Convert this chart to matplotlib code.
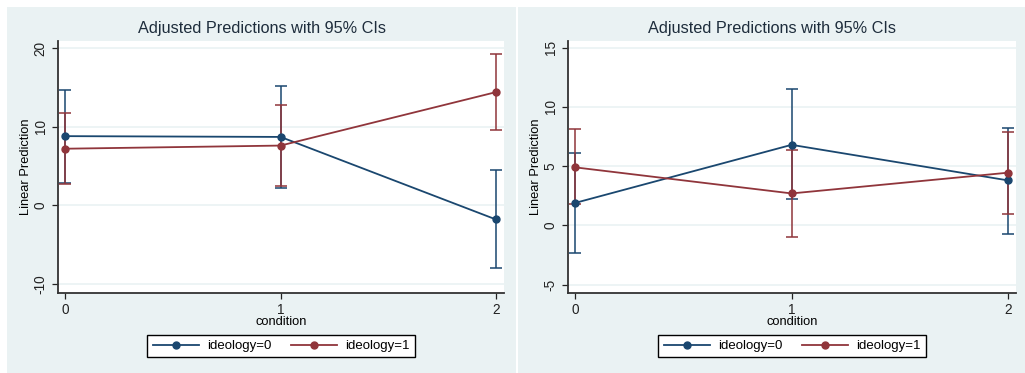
import matplotlib
matplotlib.use("Agg")
import matplotlib.pyplot as plt
from matplotlib.patches import Rectangle

plt.rcParams['font.family'] = ['Liberation Sans', 'DejaVu Sans']

W, H = 1025, 373
navy = '#1a476f'
maroon = '#90353b'
bg = '#eaf2f3'

condition = [0, 1, 2]
title = 'Adjusted Predictions with 95% CIs'
series_labels = ['ideology=0', 'ideology=1']

# left panel
left_id0 = [8.8, 8.7, -1.8]
left_id0_lo = [2.8, 2.2, -8.0]
left_id0_hi = [14.7, 15.2, 4.5]
left_id1 = [7.2, 7.6, 14.4]
left_id1_lo = [2.7, 2.5, 9.6]
left_id1_hi = [11.7, 12.7, 19.3]
left_yticks = [-10, 0, 10, 20]

# right panel
right_id0 = [1.9, 6.8, 3.8]
right_id0_lo = [-2.3, 2.2, -0.7]
right_id0_hi = [6.1, 11.5, 8.2]
right_id1 = [4.9, 2.7, 4.45]
right_id1_lo = [1.8, -1.0, 1.0]
right_id1_hi = [8.1, 6.4, 7.9]
right_yticks = [-5, 0, 5, 10, 15]


def frect(x0, y0, x1, y1):
    # pixel box (top-left origin) -> figure fraction
    return [x0 / W, (H - y1) / H, (x1 - x0) / W, (y1 - y0) / H]


fig = plt.figure(figsize=(W / 100, H / 100), dpi=100)
fig.patch.set_facecolor('white')
for x0, x1 in [(7, 516), (518, 1025)]:
    r = frect(x0, 7, x1, 373)
    fig.add_artist(Rectangle((r[0], r[1]), r[2], r[3], transform=fig.transFigure,
                             facecolor=bg, edgecolor='none', zorder=0))


def panel(box, cx, ylim, yticks, s0, lo0, hi0, s1, lo1, hi1):
    ax = fig.add_axes(frect(*box))
    ax.set_facecolor('white')
    for vals, lo, hi, c in [(s0, lo0, hi0, navy), (s1, lo1, hi1, maroon)]:
        err = [[v - l for v, l in zip(vals, lo)], [h - v for v, h in zip(vals, hi)]]
        ax.errorbar(condition, vals, yerr=err, fmt='none', ecolor=c,
                    elinewidth=1.1, capsize=4, capthick=1.1, zorder=3)
    for vals, c, lab in [(s0, navy, series_labels[0]), (s1, maroon, series_labels[1])]:
        ax.plot(condition, vals, color=c, lw=1.3, marker='o', ms=5, label=lab, zorder=4)
    ax.set_xlim(-0.033, 2.037)
    ax.set_ylim(*ylim)
    ax.set_xticks(condition)
    ax.set_yticks(yticks)
    ax.set_yticklabels([str(t) for t in yticks], rotation=90, va='center')
    ax.tick_params(labelsize=9.8, colors='#222222', length=4.5, width=0.9, pad=3)
    ax.grid(axis='y', color=bg, lw=1.2)
    ax.set_axisbelow(True)
    for s in ['top', 'right']:
        ax.spines[s].set_visible(False)
    for s in ['left', 'bottom']:
        ax.spines[s].set_color('#333333')
        ax.spines[s].set_linewidth(1.3)
    ax.set_xlabel('condition', fontsize=9.3)
    ax.set_ylabel('Linear Prediction', fontsize=9.3)
    ax.xaxis.set_label_coords(0.5, -0.092)
    ax.yaxis.set_label_coords(-0.059, 0.5)
    fig.text(cx / W, 1 - 28 / H, title, ha='center', va='center', fontsize=11.7, color='#1e2d3c')
    h, l = ax.get_legend_handles_labels()
    fig.legend(h, l, ncol=2, loc='center', bbox_to_anchor=((box[0] + box[2]) / 2 / W, 1 - 346 / H),
               fontsize=9.5, frameon=True, fancybox=False, edgecolor='black',
               handlelength=3.5, handletextpad=0.6, columnspacing=1.5,
               borderpad=0.4, borderaxespad=0, framealpha=1)
    return ax


panel((58, 41, 504, 293), 262, (-11.15, 20.9), left_yticks,
      left_id0, left_id0_lo, left_id0_hi, left_id1, left_id1_lo, left_id1_hi)
panel((568, 41, 1016, 293), 772, (-5.7, 15.56), right_yticks,
      right_id0, right_id0_lo, right_id0_hi, right_id1, right_id1_lo, right_id1_hi)

fig.savefig('out.png', dpi=100, facecolor=fig.get_facecolor())
